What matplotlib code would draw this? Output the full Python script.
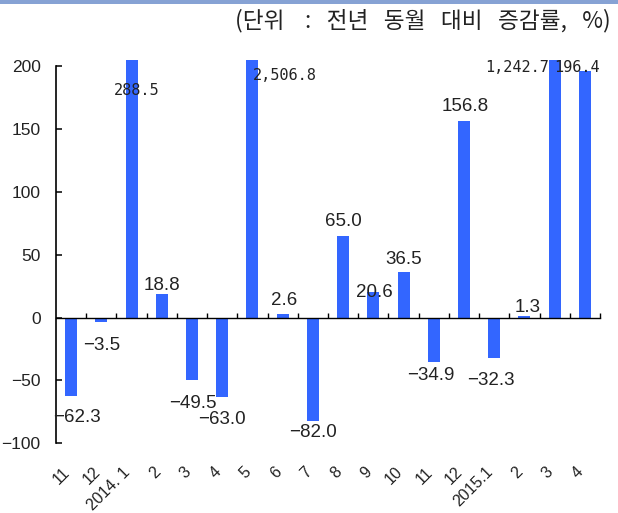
import matplotlib
matplotlib.use('Agg')
import matplotlib.pyplot as plt
from matplotlib import font_manager as fm
from matplotlib.patches import Rectangle
from matplotlib.transforms import offset_copy, blended_transform_factory

# ---------------- data ----------------
categories = ['11', '12', '2014. 1', '2', '3', '4', '5', '6', '7', '8', '9', '10',
              '11', '12', '2015.1', '2', '3', '4']
values = [-62.3, -3.5, 288.5, 18.8, -49.5, -63.0, 2506.8, 2.6, -82.0, 65.0,
          20.6, 36.5, -34.9, 156.8, -32.3, 1.3, 1242.7, 196.4]
value_labels = ['−62.3', '−3.5', '288.5', '18.8', '−49.5', '−63.0', '2,506.8', '2.6',
                '−82.0', '65.0', '20.6', '36.5', '−34.9', '156.8', '−32.3', '1.3',
                '1,242.7', '196.4']
y_ticks = [-100, -50, 0, 50, 100, 150, 200]
y_tick_labels = ['−100', '−50', '0', '50', '100', '150', '200']
title_text = '(단위    :   전년   동월   대비   증감률,   %)'

# ---------------- layout (label placement) ----------------
label_dx_px = [6, 0, 5, 0.5, 1, 0, 32.5, 1, 0, 0.5, 1.5, 0, -3, 1, -3.5, 3.5, -37.5, -7.5]
label_y = [-77.9, -20.4, 182, 27.4, -66.2, -79, 194, 15.4, -89.4, 78.4, 22, 47.9,
           -44.3, 170, -48.3, 10.1, 200.4, 200.4]
mono_label = [False, False, True, False, False, False, True, False, False, False,
              False, False, False, False, False, False, True, True]


def has_font(name):
    try:
        fm.findfont(fm.FontProperties(family=name), fallback_to_default=False)
        return True
    except Exception:
        return False


if has_font('Liberation Sans Narrow'):
    num_font, num_size, tick_size = 'Liberation Sans Narrow', 15, 13.5
else:
    num_font, num_size, tick_size = 'Liberation Sans', 13.5, 12.5
mono_font = 'DejaVu Sans Mono'

W, H, DPI = 618, 513, 100
fig = plt.figure(figsize=(W / DPI, H / DPI), dpi=DPI)
fig.patch.set_facecolor('white')

left_px, right_px = 56, 600
bottom_px_from_top = 443.3
top_px_from_top = 60.2
ax = fig.add_axes([left_px / W, 1 - bottom_px_from_top / H,
                   (right_px - left_px) / W, (bottom_px_from_top - top_px_from_top) / H])

x = list(range(len(categories)))
ax.bar(x, values, width=0.40, color='#3366FF', zorder=2)

ax.set_xlim(-0.5, len(categories) - 0.5)
ax.set_ylim(-100, 205)

# spines
for s in ['top', 'right']:
    ax.spines[s].set_visible(False)
ax.spines['left'].set_bounds(-100, 200)
ax.spines['left'].set_linewidth(1.2)
ax.spines['bottom'].set_position(('data', 0))
ax.spines['bottom'].set_linewidth(1.0)
ax.spines['bottom'].set_zorder(3)

# y ticks
ax.set_yticks(y_ticks)
ax.set_yticklabels(y_tick_labels, fontfamily=num_font, fontsize=tick_size, color='#222222')
ax.tick_params(axis='y', direction='in', length=4, width=1.1, pad=11)

# x ticks at category boundaries on the zero line
ax.set_xticks([i + 0.5 for i in x])
ax.set_xticklabels([])
ax.tick_params(axis='x', direction='in', length=3.5, width=1.0)

# category labels, rotated
xt = blended_transform_factory(ax.transData, ax.transAxes)
for i, lab in enumerate(categories):
    tr = offset_copy(xt, fig=fig, x=-9, y=-21, units='dots')
    ax.text(i, 0, lab, transform=tr, rotation=45, rotation_mode='anchor',
            ha='right', va='top', fontfamily='Liberation Sans', fontsize=11.5,
            color='#222222', clip_on=False)

# value labels
for i, (lab, dx, yv, mono) in enumerate(zip(value_labels, label_dx_px, label_y, mono_label)):
    if mono:
        fam, fs = mono_font, 11
        cap = 0.73 * fs * DPI / 72
    else:
        fam, fs = num_font, num_size
        cap = 0.72 * fs * DPI / 72
    tr = offset_copy(ax.transData, fig=fig, x=dx, y=-cap / 2, units='dots')
    ax.text(i, yv, lab, transform=tr, ha='center', va='baseline', fontfamily=fam,
            fontsize=fs, color='#222222', clip_on=False, zorder=4)

# top decorative band and unit title
fig.patches.append(Rectangle((0, 1 - 4 / H), 1, 4 / H, transform=fig.transFigure,
                             facecolor='#86A2D4', edgecolor='none'))
fig.text(611 / W, 1 - 21 / H, title_text, ha='right', va='center',
         fontfamily=['Noto Sans CJK KR', 'DejaVu Sans'], fontsize=16.3, color='#222222')

fig.savefig('out.png', dpi=DPI)
